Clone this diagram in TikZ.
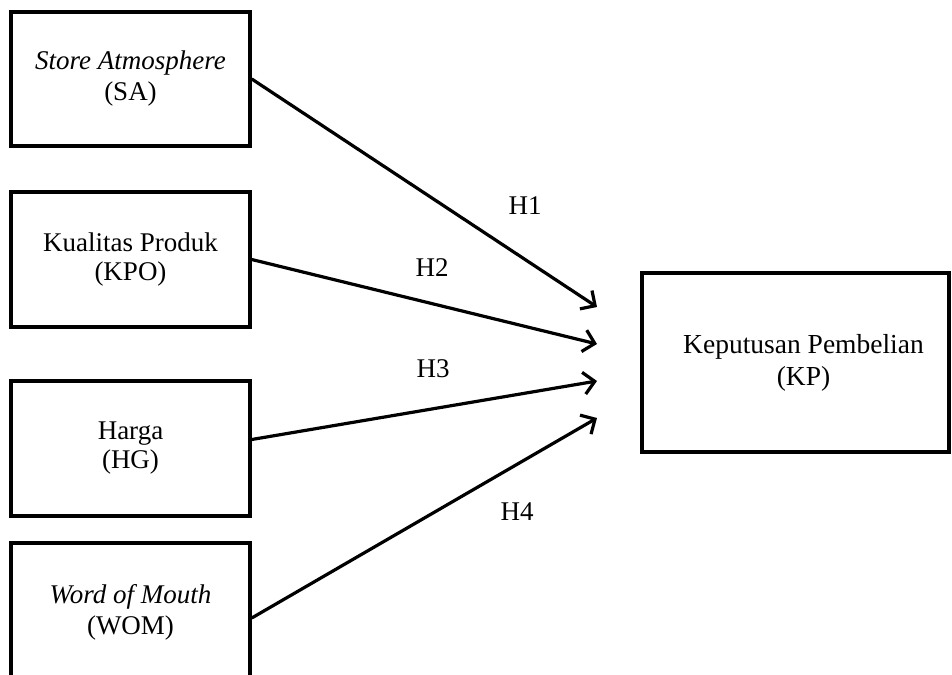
\documentclass[tikz,border=0pt]{standalone}
\usepackage{fontspec}
\setmainfont{Liberation Serif}
\usetikzlibrary{arrows.meta}
\begin{document}
\begin{tikzpicture}[x=1pt,y=-1pt,
  varbox/.style={draw=black, line width=3.5pt, fill=white, align=center, inner sep=0pt,
    font=\fontsize{27}{29}\selectfont},
  hlabel/.style={inner sep=0pt, font=\fontsize{27}{27}\selectfont},
  arr/.style={line width=3.2pt, -{Straight Barb[length=11pt,width=22pt,line width=3.2pt]}}]
\clip (0,0) rectangle (952,674);
\fill[white] (0,0) rectangle (952,674);
\node[varbox, minimum width=239pt, minimum height=134pt, font=\fontsize{27}{31}\selectfont] (SA) at (130.5,79) {\textit{Store Atmosphere}\\(SA)};
\node[varbox, minimum width=239pt, minimum height=135pt] (KPO) at (130.5,259.5) {Kualitas Produk\\(KPO)};
\node[varbox, minimum width=239pt, minimum height=135pt] (HG) at (130.5,448.5) {Harga\\(HG)};
\node[varbox, minimum width=239pt, minimum height=138pt, font=\fontsize{27}{31}\selectfont] (WOM) at (130.5,612) {\textit{Word of Mouth}\\(WOM)};
\node[varbox, minimum width=307pt, minimum height=179pt, font=\fontsize{27.5}{32}\selectfont] (KP) at (795.5,362.5) {\hspace*{16pt}Keputusan Pembelian\\\hspace*{16pt}(KP)};
\coordinate (t1) at (597,307);
\coordinate (t2) at (597,344);
\coordinate (t3) at (597,381);
\coordinate (t4) at (597,418);
\draw[arr] (SA.east) -- (t1);
\draw[arr] (KPO.east) -- (t2);
\draw[arr] ([yshift=9pt]HG.east) -- (t3);
\draw[arr] ([yshift=-6pt]WOM.east) -- (t4);
\node[hlabel] (h1) at (525,206) {H1};
\node[hlabel] (h2) at (432,268) {H2};
\node[hlabel] (h3) at (433,369) {H3};
\node[hlabel] (h4) at (517,512) {H4};
\end{tikzpicture}
\end{document}
